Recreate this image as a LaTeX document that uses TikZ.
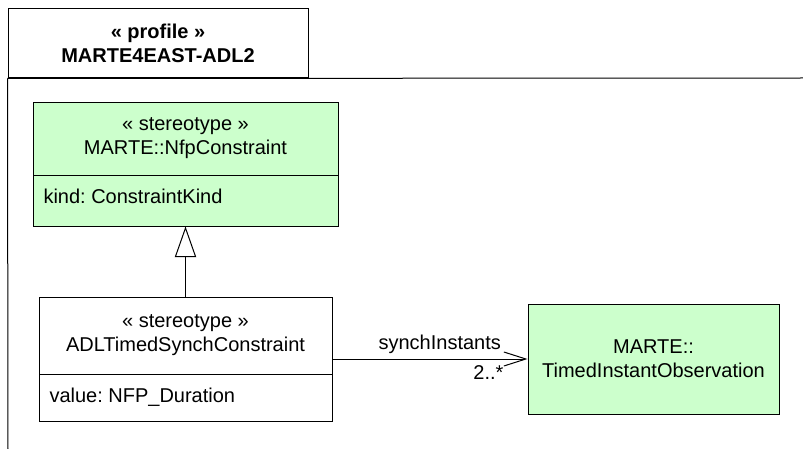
\documentclass[tikz,border=0pt]{standalone}
\usepackage{fontspec}
\setmainfont{Liberation Sans}
\usetikzlibrary{arrows.meta,fit}
\definecolor{stereogreen}{HTML}{CCFFCC}
\frenchspacing

\begin{document}
\begin{tikzpicture}[x=0.75pt,y=-0.75pt,line width=0.75pt,
  font=\fontsize{15}{18}\selectfont,
  classbox/.style={draw,inner sep=0pt},
  greenbox/.style={classbox,fill=stereogreen},
  title/.style={align=center,inner sep=0pt},
  attr/.style={anchor=base west,inner sep=0pt}]
  \useasboundingbox (0,0) rectangle (803,449);

  % package
  \node[classbox,fit={(8,9) (308,78)}] (tab) {};
  \node[title,font=\fontsize{15}{18}\selectfont\bfseries] (pkgname) at (158,43) {« profile »\\MARTE4EAST-ADL2};
  \coordinate (bodyend) at (803,78);
  \coordinate (bodybottom) at (8,449);
  \draw (tab.south west) -- (bodyend);
  \draw (tab.south west) -- (bodybottom);

  % classes
  \node[greenbox,fit={(33,103) (338,226)}] (nfp) {};
  \node[title] (nfpname) at (185.5,138.5) {« stereotype »\\MARTE::NfpConstraint};
  \coordinate (nfpsep) at (33,176);
  \draw (nfpsep) -- (nfpsep -| nfp.east);
  \node[attr] (nfpkind) at (43,204) {kind: ConstraintKind};

  \node[classbox,fit={(39,297) (332,421)}] (adl) {};
  \node[title] (adlname) at (185.5,335.5) {« stereotype »\\ADLTimedSynchConstraint};
  \coordinate (adlsep) at (39,374);
  \draw (adlsep) -- (adlsep -| adl.east);
  \node[attr] (adlvalue) at (49,402) {value: NFP\_Duration};

  \node[greenbox,fit={(528,304) (779,414)}] (tio) {};
  \node[title] (tioname) at (tio.center) {MARTE::\\TimedInstantObservation};

  % connectors
  \draw[-{Triangle[open,length=23pt,width=16pt]}] (adl.north) -- (nfp.south);
  \draw[-{Straight Barb[length=16.5pt,width=10.5pt]}] (adl.east) -- (tio.west)
    node[pos=0.55,above] (rolename) {synchInstants}
    node[pos=0.8,below,yshift=-1pt] (rolemult) {2..*};
\end{tikzpicture}
\end{document}
